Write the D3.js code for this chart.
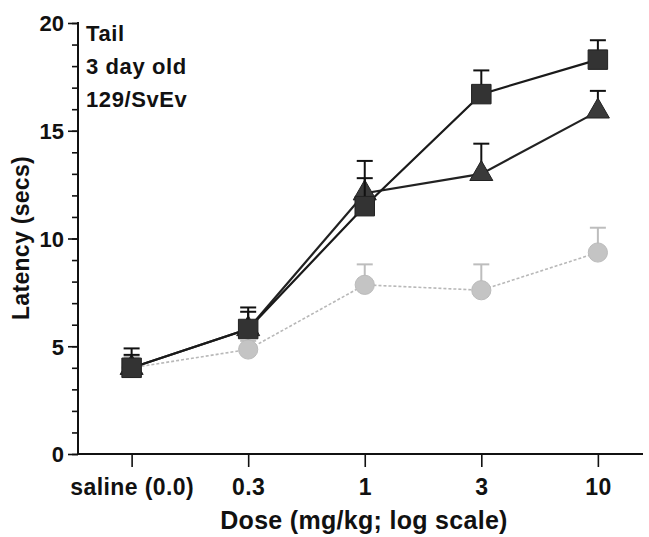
<!DOCTYPE html>
<html>
<head>
<meta charset="utf-8">
<script src="https://cdn.jsdelivr.net/npm/d3@7"></script>
<style>
  body { margin: 0; background: #fff; }
  svg text { font-family: "Liberation Sans", Arial, sans-serif; font-weight: bold; fill: #111; }
</style>
</head>
<body>
<script>
// Data
const doseLabels = ["saline (0.0)", "0.3", "1", "3", "10"];
const squareMean = [4.0, 5.8, 11.5, 16.7, 18.3];
const squareErr  = [0.9, 1.0, 1.3, 1.1, 0.9];
const triangleMean = [4.0, 5.8, 12.1, 13.0, 15.9];
const triangleErr  = [0.6, 0.8, 1.5, 1.4, 0.95];
const circleMean = [4.0, 4.85, 7.85, 7.6, 9.35];
const circleErr  = [0.5, 0.4, 0.95, 1.2, 1.15];
const yMajorTicks = [0, 5, 10, 15, 20];
const noteLines = ["Tail", "3 day old", "129/SvEv"];

const W = 649, H = 537;

const svg = d3.select("body").append("svg")
    .attr("width", W)
    .attr("height", H);

// Scales
const x = d3.scaleLinear().domain([-0.46, 4.37]).range([78, 641]);
const y = d3.scaleLinear().domain([0, 20]).range([454, 23]);

// Y axis: minor ticks every 1, major labelled every 5
const yAxisMinor = d3.axisLeft(y).tickValues(d3.range(0, 21)).tickSize(6).tickFormat("");
svg.append("g")
    .attr("transform", "translate(78,0)")
    .call(yAxisMinor)
    .call(g => g.select(".domain").remove())
    .call(g => g.selectAll("line").attr("stroke", "#111").attr("stroke-width", 1.6));

const yAxis = d3.axisLeft(y).tickValues(yMajorTicks).tickSize(10).tickPadding(4);
svg.append("g")
    .attr("transform", "translate(78,0)")
    .call(yAxis)
    .call(g => g.select(".domain").remove())
    .call(g => g.selectAll("line").attr("stroke", "#111").attr("stroke-width", 1.6))
    .call(g => g.selectAll("text").attr("font-size", 22).attr("font-family", null).attr("dy", "0.36em"));

svg.append("line")
    .attr("x1", 78).attr("x2", 78)
    .attr("y1", y(20) - 1).attr("y2", y(0) + 1)
    .attr("stroke", "#111").attr("stroke-width", 2);

// X axis
const xAxis = d3.axisBottom(x)
    .tickValues(d3.range(doseLabels.length))
    .tickFormat(i => doseLabels[i])
    .tickSize(13)
    .tickPadding(12);
svg.append("g")
    .attr("transform", "translate(0," + y(0) + ")")
    .call(xAxis)
    .call(g => g.select(".domain").remove())
    .call(g => g.selectAll("line").attr("stroke", "#111").attr("stroke-width", 1.6))
    .call(g => g.selectAll("text").attr("font-size", 23).attr("letter-spacing", 0.4).attr("font-family", null));

svg.append("line")
    .attr("x1", 77).attr("x2", 643)
    .attr("y1", y(0)).attr("y2", y(0))
    .attr("stroke", "#111").attr("stroke-width", 2);

// Axis titles
svg.append("text")
    .attr("x", 364).attr("y", 529)
    .attr("text-anchor", "middle")
    .attr("font-size", 25)
    .attr("letter-spacing", 0.3)
    .text("Dose (mg/kg; log scale)");

svg.append("text")
    .attr("transform", "translate(29,238) rotate(-90)")
    .attr("text-anchor", "middle")
    .attr("font-size", 23)
    .attr("letter-spacing", 0.3)
    .text("Latency (secs)");

// Annotation
svg.selectAll(".note")
    .data(noteLines)
    .enter().append("text")
    .attr("class", "note")
    .attr("x", 86)
    .attr("y", (d, i) => 41 + i * 33)
    .attr("font-size", 22)
    .attr("letter-spacing", 0.6)
    .text(d => d);

// Series
const series = [
    { name: "circle", mean: circleMean, err: circleErr, color: "#c4c4c4", line: "#b8b8b8", dash: "3,2", width: 1.6 },
    { name: "triangle", mean: triangleMean, err: triangleErr, color: "#3a3a3a", line: "#222", dash: null, width: 2.2 },
    { name: "square", mean: squareMean, err: squareErr, color: "#333", line: "#1a1a1a", dash: null, width: 2.2 }
];

const line = d3.line()
    .x((d, i) => x(i))
    .y(d => y(d));

series.forEach(s => {
    svg.append("path")
        .datum(s.mean)
        .attr("fill", "none")
        .attr("stroke", s.line)
        .attr("stroke-width", s.width)
        .attr("stroke-dasharray", s.dash)
        .attr("d", line);
});

series.forEach(s => {
    const g = svg.append("g").attr("class", "series-" + s.name);
    const pts = s.mean.map((m, i) => ({ i: i, m: m, e: s.err[i] }));
    const errColor = s.name === "circle" ? "#bdbdbd" : "#111";

    // upper error bars
    g.selectAll(".err")
        .data(pts)
        .enter().append("line")
        .attr("x1", d => x(d.i)).attr("x2", d => x(d.i))
        .attr("y1", d => y(d.m)).attr("y2", d => y(d.m + d.e))
        .attr("stroke", errColor).attr("stroke-width", 2);
    g.selectAll(".cap")
        .data(pts)
        .enter().append("line")
        .attr("x1", d => x(d.i) - 8).attr("x2", d => x(d.i) + 8)
        .attr("y1", d => y(d.m + d.e)).attr("y2", d => y(d.m + d.e))
        .attr("stroke", errColor).attr("stroke-width", 2);

    // markers
    let sym;
    if (s.name === "square") sym = d3.symbol(d3.symbolSquare, 380);
    else if (s.name === "triangle") sym = d3.symbol(d3.symbolTriangle, 230);
    else sym = d3.symbol(d3.symbolCircle, 290);
    g.selectAll(".mark")
        .data(pts)
        .enter().append("path")
        .attr("transform", d => "translate(" + x(d.i) + "," + y(d.m) + ")")
        .attr("d", sym)
        .attr("fill", s.color)
        .attr("stroke", s.name === "circle" ? "#bbb" : "#222")
        .attr("stroke-width", 1);
});
</script>
</body>
</html>
